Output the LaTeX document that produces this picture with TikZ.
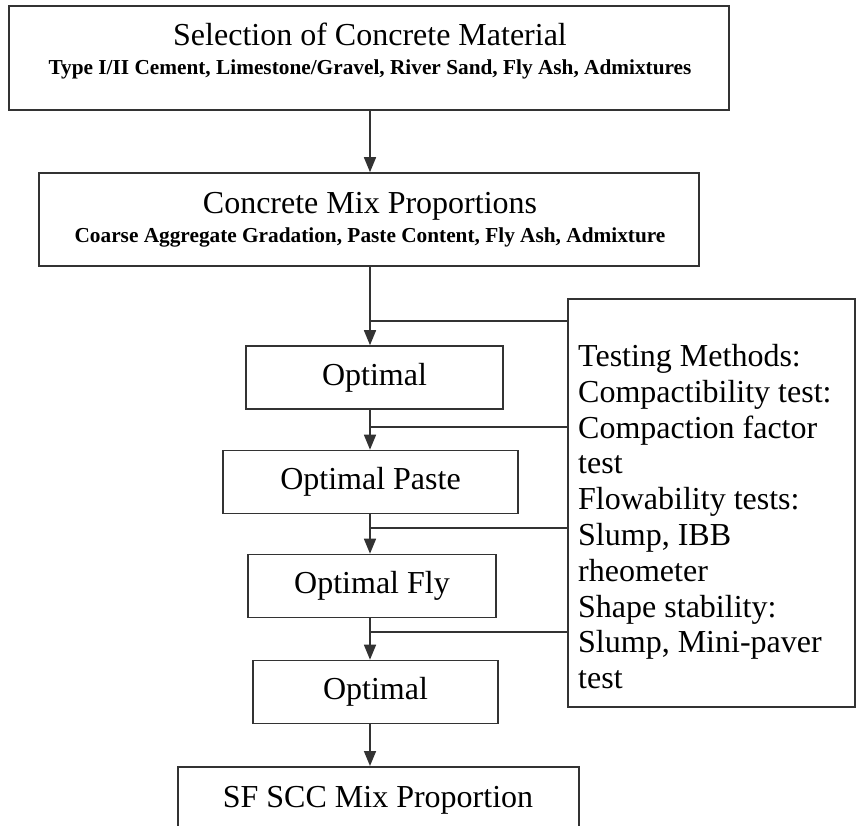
\documentclass[tikz,border=0pt]{standalone}
\usepackage{fontspec}
\setmainfont{Liberation Serif}
\usetikzlibrary{arrows.meta}
\tikzset{
  box/.style={draw=black!80,line width=1.6pt,inner sep=0pt},
  flow/.style={draw=black!80,line width=1.6pt,-{Triangle[length=15pt,width=12pt]}},
  link/.style={draw=black!80,line width=1.6pt},
  big/.style={font=\fontsize{32}{35.8}\selectfont,inner sep=0pt},
  small/.style={font=\fontsize{21.3}{24}\selectfont\bfseries,inner sep=0pt},
}
\begin{document}
\begin{tikzpicture}[x=1pt,y=-1pt]
  \useasboundingbox (0,0) rectangle (857,825);
  \clip (0,0) rectangle (857,825);
  \coordinate (spine) at (370,0);
  % material and mix boxes
  \node[box,minimum width=720pt,minimum height=104pt] (mat) at (369,58) {};
  \node[big,anchor=base] (mat-t) at (370,45) {Selection of Concrete Material};
  \node[small,anchor=base] (mat-s) at (370,74) {Type I/II Cement, Limestone/Gravel, River Sand, Fly Ash, Admixtures};
  \node[box,minimum width=660pt,minimum height=93pt] (mix) at (369,219.5) {};
  \node[big,anchor=base] (mix-t) at (370,213) {Concrete Mix Proportions};
  \node[small,anchor=base] (mix-s) at (370,242) {Coarse Aggregate Gradation, Paste Content, Fly Ash, Admixture};
  % optimisation steps
  \foreach \n/\x/\y/\w/\txt in {opt1/374.5/377.5/257/Optimal, paste/370.5/482/295/Optimal Paste,
      fly/372/586/248/Optimal Fly, opt2/375.5/692/245/Optimal}
    \node[box,big,minimum width=\w pt,minimum height=63pt] (\n) at (\x,\y) {\txt};
  \node[box,minimum width=401pt,minimum height=100pt,anchor=north] (sf) at (378.5,766) {};
  \node[big,anchor=base] (sf-t) at (378,807) {SF SCC Mix Proportion};
  % testing methods
  \node[box,minimum width=287pt,minimum height=408pt] (tests) at (711.5,503) {};
  \node[big,align=left,anchor=north west] (tests-t) at (578,344) {Testing Methods:\\ Compactibility test:\\ Compaction factor\\ test\\ Flowability tests:\\ Slump, IBB\\ rheometer\\ Shape stability:\\ Slump, Mini-paver\\ test};
  % arrows
  \foreach \a/\b in {mat/mix, mix/opt1, opt1/paste, paste/fly, fly/opt2, opt2/sf}
    \draw[flow] (\a.south -| spine) -- (\b.north -| spine);
  \foreach \a/\y in {mix/321, opt1/427, paste/528, fly/632} {
    \coordinate (j-\a) at (370,\y);
    \draw[link] (j-\a) -- (j-\a -| tests.west);
  }
\end{tikzpicture}
\end{document}
